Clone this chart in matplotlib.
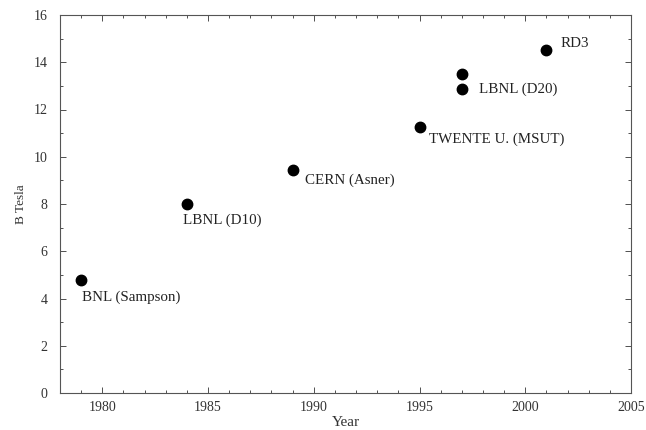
import numpy as np
import matplotlib.pyplot as plt
from matplotlib.ticker import MultipleLocator

plt.rcParams['font.family'] = ['Liberation Serif', 'DejaVu Serif']

years = [1979, 1984, 1989, 1995, 1997, 1997, 2001]
field = [4.8, 8.0, 9.45, 11.25, 13.5, 12.85, 14.5]
labels = ['BNL (Sampson)', 'LBNL (D10)', 'CERN (Asner)', 'TWENTE U. (MSUT)',
          '', 'LBNL (D20)', 'RD3']
# label offsets in pixels (dx, dy)
offsets = [(1, -18), (-4, -16), (12, -11), (9, -12), (0, 0), (17, 0), (14, 7)]

fig = plt.figure(figsize=(6.46, 4.30), dpi=100)
ax = fig.add_axes([60/646, 1-393/430, (631-60)/646, (393-15)/430])

ax.plot(years, field, 'o', color='black', markersize=7.5, linestyle='none')
for x, y, lab, (dx, dy) in zip(years, field, labels, offsets):
    if lab:
        ax.annotate(lab, (x, y), xytext=(dx, dy), textcoords='offset pixels',
                    ha='left', va='center', fontsize=10.8, color='#222222')

ax.set_xlim(1978, 2005)
ax.set_ylim(0, 16)
ax.xaxis.set_major_locator(MultipleLocator(5))
ax.xaxis.set_minor_locator(MultipleLocator(1))
ax.yaxis.set_major_locator(MultipleLocator(2))
ax.yaxis.set_minor_locator(MultipleLocator(1))
ax.tick_params(which='both', direction='in', top=True, right=True,
               labelsize=10, colors='#333333', width=0.6)
ax.tick_params(which='major', length=4)
ax.tick_params(axis='y', which='major', pad=9)
ax.tick_params(axis='x', which='major', pad=6)
ax.tick_params(which='minor', length=2)
for s in ax.spines.values():
    s.set_color('#555555')
    s.set_linewidth(0.8)

ax.set_xlabel('Year', fontsize=11, color='#333333', labelpad=1)
ax.set_ylabel('B Tesla', fontsize=9.5, color='#333333', labelpad=5)

fig.savefig('out.png', dpi=100)
